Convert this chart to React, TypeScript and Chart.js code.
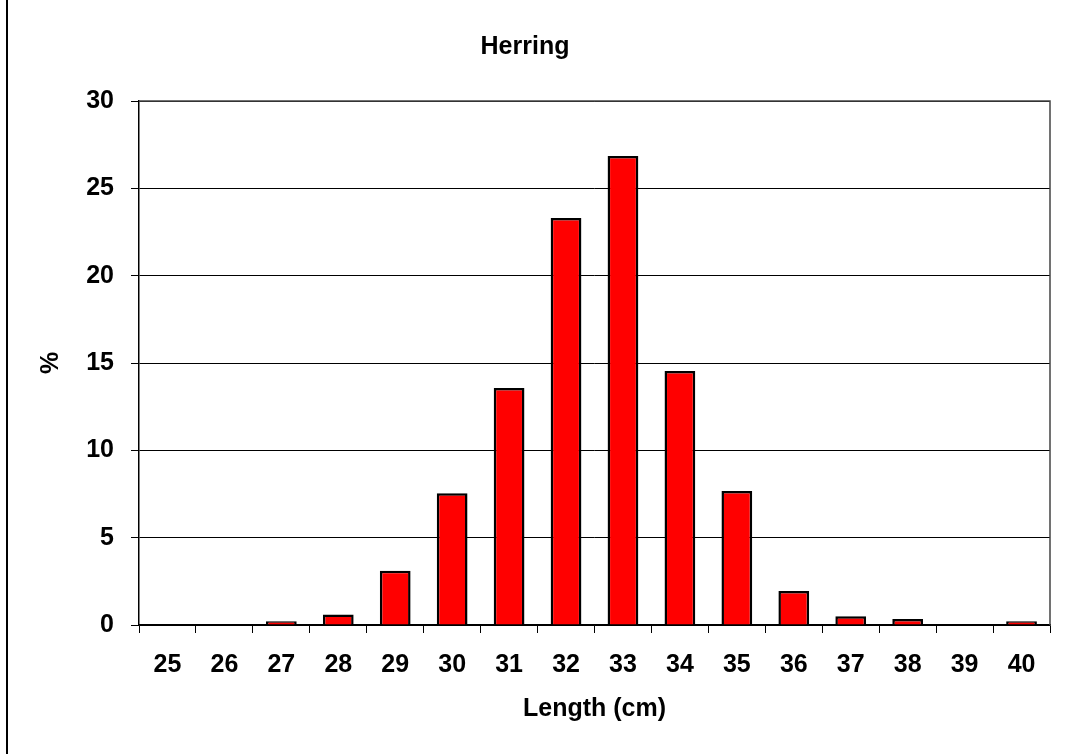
import React, { useEffect, useRef } from "react";
import { Chart, registerables } from "chart.js";

Chart.register(...registerables);

const lengths = ["25", "26", "27", "28", "29", "30", "31", "32", "33", "34", "35", "36", "37", "38", "39", "40"];
const percents = [0, 0, 0.22, 0.6, 3.1, 7.55, 13.57, 23.3, 26.85, 14.54, 7.67, 1.95, 0.5, 0.35, 0, 0.22];
const chartTitle = "Herring";
const xTitle = "Length (cm)";
const yTitle = "%";

const FONT = "'Liberation Sans', Arial, sans-serif";
const FS = 25;

const framePlugin = {
  id: "frame",
  afterDraw(chart: any) {
    const { ctx, chartArea } = chart;
    ctx.save();
    ctx.strokeStyle = "#000";
    ctx.lineWidth = 2;
    ctx.beginPath();
    ctx.moveTo(7, 0);
    ctx.lineTo(7, chart.height);
    ctx.stroke();
    ctx.strokeStyle = "#444";
    ctx.lineWidth = 1.5;
    ctx.beginPath();
    ctx.moveTo(chartArea.left, chartArea.top);
    ctx.lineTo(chartArea.right, chartArea.top);
    ctx.lineTo(chartArea.right, chartArea.bottom);
    ctx.stroke();
    ctx.restore();
  },
};

export default function App() {
  const ref = useRef<HTMLCanvasElement | null>(null);
  useEffect(() => {
    if (!ref.current) return;
    const chart = new Chart(ref.current, {
      type: "bar",
      data: {
        labels: lengths,
        datasets: [
          {
            data: percents,
            backgroundColor: "#ff0000",
            borderColor: "#000000",
            borderWidth: 2.5,
            barPercentage: 0.54,
            categoryPercentage: 1,
          },
        ],
      },
      plugins: [framePlugin],
      options: {
        responsive: false,
        animation: false,
        layout: { padding: { left: 0, right: 16, top: 0, bottom: 0 } },
        plugins: {
          legend: { display: false },
          tooltip: { enabled: false },
          title: {
            display: true,
            text: chartTitle,
            color: "#000",
            font: { family: FONT, size: FS, weight: "bold" },
            padding: { top: 32, bottom: 39 },
          },
        },
        scales: {
          x: {
            afterFit: (s: any) => {
              s.height = 129;
            },
            grid: {
              display: true,
              offset: true,
              drawOnChartArea: false,
              drawTicks: true,
              tickLength: 8,
              color: "#000",
            },
            border: { display: true, color: "#000", width: 1.5 },
            ticks: {
              color: "#000",
              font: { family: FONT, size: FS, weight: "bold" },
              padding: 17,
              maxRotation: 0,
              autoSkip: false,
            },
            title: {
              display: true,
              text: xTitle,
              color: "#000",
              font: { family: FONT, size: FS, weight: "bold" },
              padding: { top: 0, bottom: 30 },
            },
          },
          y: {
            min: 0,
            max: 30,
            afterFit: (s: any) => {
              s.width = 139;
            },
            grid: {
              color: "#000",
              lineWidth: 1,
              drawTicks: true,
              tickLength: 8,
            },
            border: { display: true, color: "#000", width: 1.5 },
            ticks: {
              stepSize: 5,
              color: "#000",
              font: { family: FONT, size: FS, weight: "bold" },
              padding: 17,
            },
            title: {
              display: true,
              text: yTitle,
              color: "#000",
              font: { family: FONT, size: FS, weight: "bold" },
              padding: { top: 36, bottom: 0 },
            },
          },
        },
      },
    });
    return () => chart.destroy();
  }, []);
  return (
    <div style={{ position: "fixed", left: 0, top: 0, width: 1066, height: 754, background: "#fff" }}>
      <canvas ref={ref} width={1066} height={754} style={{ display: "block", width: 1066, height: 754 }} />
    </div>
  );
}
